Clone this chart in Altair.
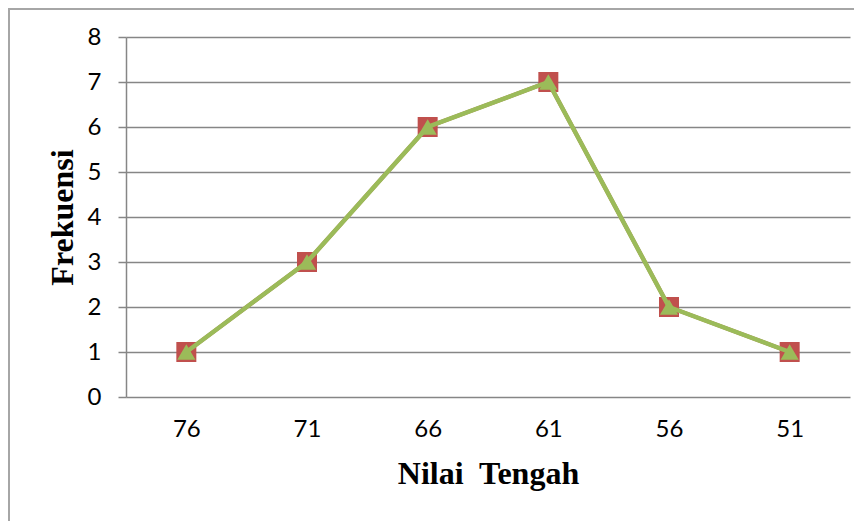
import altair as alt
import pandas as pd

nilai_tengah = ["76", "71", "66", "61", "56", "51"]
frekuensi = [1, 3, 6, 7, 2, 1]

df = pd.DataFrame({"Nilai Tengah": nilai_tengah, "Frekuensi": frekuensi})

W, H = 724, 360

x_enc = alt.X(
    "Nilai Tengah:N",
    sort=nilai_tengah,
    scale=alt.Scale(type="point", padding=0.5),
    axis=alt.Axis(
        title="Nilai\u00a0 Tengah",
        titleFont="Liberation Serif",
        titleFontSize=32,
        titleFontWeight="bold",
        titleColor="black",
        titlePadding=17,
        labelFont="Lato",
        labelFontSize=24,
        labelColor="black",
        labelPadding=20,
        labelAngle=0,
        labelOverlap=False,
        ticks=False,
        domain=False,
        grid=False,
    ),
)
y_enc = alt.Y(
    "Frekuensi:Q",
    scale=alt.Scale(domain=[0, 8], nice=False),
    axis=alt.Axis(
        title="Frekuensi",
        titleFont="Liberation Serif",
        titleFontSize=32,
        titleFontWeight="bold",
        titleColor="black",
        titlePadding=8,
        labelFont="Lato",
        labelFontSize=24,
        labelColor="black",
        labelPadding=17,
        labelOverlap=False,
        values=list(range(0, 9)),
        ticks=True,
        tickSize=8,
        tickColor="#868686",
        tickWidth=1.5,
        domain=True,
        domainColor="#868686",
        domainWidth=1.5,
        grid=True,
        gridColor="#868686",
        gridWidth=1.5,
    ),
)

base = alt.Chart(df).encode(x=x_enc, y=y_enc)

red_line = base.mark_line(color="#C0504D", strokeWidth=4)
red_pts = base.mark_point(shape="square", size=400, filled=True, color="#C0504D", opacity=1)
green_line = base.mark_line(color="#9BBB59", strokeWidth=4.5)
green_pts = base.mark_point(shape="triangle-up", size=330, filled=True, color="#9BBB59", opacity=1)

frame = alt.Chart(df).mark_rect(fill=None, fillOpacity=0, stroke="#A6A6A6", strokeWidth=1.5).encode(
    x=alt.value(-117), x2=alt.value(780), y=alt.value(-28), y2=alt.value(540)
)

chart = (
    alt.layer(red_line, red_pts, green_line, green_pts, frame)
    .properties(
        width=W,
        height=H,
        autosize=alt.AutoSizeParams(type="none"),
        padding={"left": 118, "top": 29, "right": 4, "bottom": 124},
        background="white",
    )
    .configure_view(stroke=None)
)

chart.save("out.html", embed_options={"renderer": "svg", "actions": False})
